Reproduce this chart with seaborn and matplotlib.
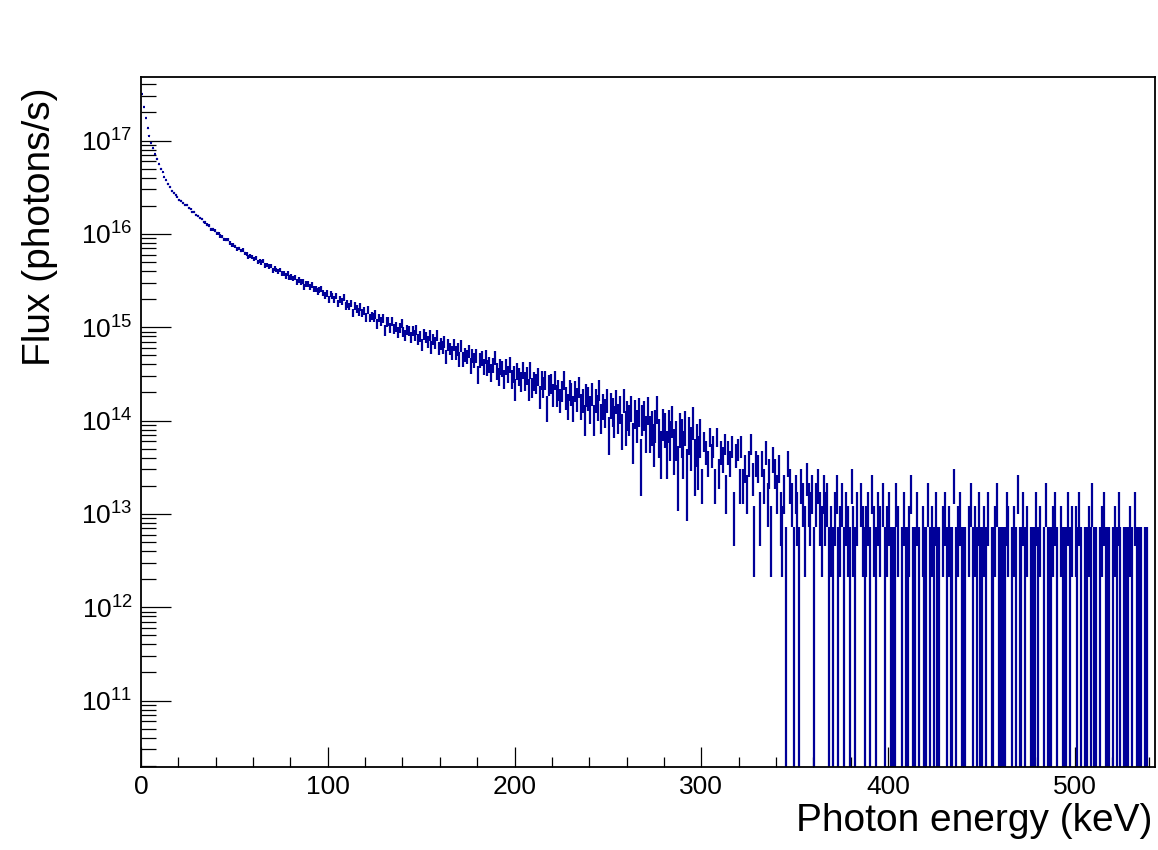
import numpy as np
import pandas as pd
import matplotlib
matplotlib.use("Agg")
import matplotlib.pyplot as plt
import seaborn as sns
from matplotlib.ticker import LogLocator, MultipleLocator, NullFormatter, LogFormatterSciNotation

sns.set_theme(style="white")
plt.rcParams['font.family'] = ['Liberation Sans', 'DejaVu Sans']
plt.rcParams['mathtext.default'] = 'regular'
plt.rcParams['text.color'] = 'black'
plt.rcParams['axes.labelcolor'] = 'black'
plt.rcParams['xtick.color'] = 'black'
plt.rcParams['ytick.color'] = 'black'

flux_per_count = 3.6e12
bin_width_kev = 1.0

# counts per 1 keV bin
counts_000_099 = [87990, 63420, 48480, 37460, 31470, 26390, 23115, 19870, 17620, 15500,
                  13840, 12690, 11180, 10390, 9520, 8780, 8030, 7680, 7200, 6900,
                  6370, 6305, 6000, 5705, 5615, 5280, 5115, 4795, 4795, 4435,
                  4325, 4125, 4030, 3715, 3685, 3490, 3410, 3100, 3110, 3010,
                  2825, 2835, 2645, 2585, 2440, 2415, 2410, 2225, 2120, 2120,
                  2045, 1920, 1945, 1845, 1865, 1715, 1700, 1580, 1630, 1565,
                  1490, 1520, 1390, 1435, 1370, 1420, 1280, 1290, 1240, 1260,
                  1135, 1195, 1145, 1100, 1140, 1060, 1060, 985, 1055, 955,
                  964, 933, 950, 854, 895, 851, 864, 759, 813, 805,
                  747, 787, 719, 720, 674, 694, 719, 646, 613, 642]
counts_100_199 = [554, 634, 603, 556, 603, 504, 557, 521, 580, 471,
                  495, 465, 500, 399, 469, 436, 408, 458, 398, 413,
                  353, 431, 351, 371, 354, 381, 303, 351, 321, 344,
                  258, 318, 321, 276, 324, 269, 279, 247, 275, 309,
                  249, 227, 263, 253, 216, 255, 228, 264, 209, 223,
                  181, 233, 218, 195, 227, 171, 206, 190, 228, 166,
                  185, 170, 194, 136, 181, 164, 149, 182, 149, 161,
                  127, 178, 128, 143, 136, 154, 108, 140, 124, 139,
                  88, 125, 131, 105, 136, 104, 111, 92, 110, 132,
                  96, 84, 107, 101, 79, 105, 89, 111, 79, 89]
counts_200_299 = [61, 95, 83, 74, 98, 75, 85, 61, 98, 64,
                  75, 70, 84, 51, 76, 65, 77, 39, 68, 71,
                  54, 77, 53, 60, 47, 59, 76, 50, 41, 60,
                  55, 39, 59, 48, 65, 41, 47, 30, 54, 49,
                  38, 55, 30, 47, 40, 60, 31, 41, 35, 47,
                  21, 42, 36, 29, 46, 31, 38, 23, 47, 25,
                  33, 30, 39, 18, 34, 26, 36, 11, 30, 33,
                  22, 37, 22, 25, 17, 26, 38, 20, 14, 27,
                  24, 14, 26, 19, 29, 15, 19, 9, 24, 20,
                  14, 25, 8, 21, 16, 28, 11, 17, 12, 20]
counts_300_399 = [6, 17, 13, 10, 19, 12, 15, 6, 19, 8,
                  13, 11, 16, 5, 13, 10, 15, 3, 12, 14,
                  6, 15, 6, 9, 5, 10, 16, 7, 2, 10,
                  9, 3, 10, 6, 13, 4, 8, 2, 11, 8,
                  5, 9, 3, 2, 5, 1, 10, 6, 4, 1,
                  5, 3, 1, 6, 4, 2, 7, 4, 3, 5,
                  1, 4, 6, 3, 2, 5, 3, 4, 1, 2,
                  1, 3, 5, 1, 2, 4, 1, 3, 2, 1,
                  6, 2, 1, 3, 0, 4, 2, 1, 2, 3,
                  1, 5, 2, 1, 3, 2, 0, 4, 1, 2]
counts_400_449 = [3, 1, 1, 1, 4, 2, 0, 1, 3, 1, 1, 2, 5, 1, 1, 3, 1, 0, 2, 1,
                  1, 4, 1, 2, 1, 3, 1, 1, 0, 2, 3, 1, 2, 1, 1, 6, 1, 2, 3, 1,
                  1, 1, 0, 2, 4, 1, 2, 1, 3, 1]
counts_450_499 = [1, 2, 1, 3, 0, 1, 1, 2, 4, 1, 1, 1, 1, 3, 2, 0, 1, 2, 1, 5,
                  1, 1, 3, 1, 2, 0, 1, 1, 1, 3, 1, 2, 0, 1, 4, 1, 1, 1, 2, 3,
                  1, 0, 2, 1, 1, 1, 3, 1, 2, 0]
counts_500_538 = [2, 1, 3, 1, 0, 1, 1, 2, 1, 4, 1, 1, 0, 1, 2, 3, 1, 1, 1, 0,
                  1, 2, 1, 3, 1, 0, 1, 1, 1, 2, 1, 0, 3, 1, 1, 1, 0, 1, 1]

# error bars in the picture are wider than sqrt(N) below ~300 keV (weighted fills)
err_scale_from_kev = [0, 300]
err_scale = [2.0, 1.0]

x_ticks = [0, 100, 200, 300, 400, 500]
x_lim = (0, 543)
y_lim = (1.94e10, 4.8e17)

counts = (counts_000_099 + counts_100_199 + counts_200_299 + counts_300_399
          + counts_400_449 + counts_450_499 + counts_500_538)
energy = (np.arange(len(counts)) + 0.5) * bin_width_kev

df = pd.DataFrame({"energy": energy, "counts": counts})
df = df[df["counts"] > 0].copy()
scale_idx = np.searchsorted(err_scale_from_kev, df["energy"].values, side="right") - 1
df["flux"] = df["counts"] * flux_per_count
df["err"] = np.sqrt(df["counts"]) * flux_per_count * np.array(err_scale)[scale_idx]
df["lo"] = (df["flux"] - df["err"]).clip(lower=y_lim[0] * 0.5)
df["hi"] = df["flux"] + df["err"]

navy = "#000099"

fig = plt.figure(figsize=(11.58, 8.5), dpi=100)
ax = fig.add_axes([0.1218, 0.0976, 0.8756, 0.8118])
ax.set_yscale("log")

# ROOT-style error display: vertical error bars, bin-wide horizontal bars, dot markers
ax.vlines(df["energy"], df["lo"], df["hi"], color=navy, lw=1.6)
ax.hlines(df["flux"], df["energy"] - bin_width_kev / 2, df["energy"] + bin_width_kev / 2,
          color=navy, lw=1.6)
sns.scatterplot(data=df, x="energy", y="flux", ax=ax, s=4, color=navy, marker="s",
                linewidth=0, legend=False)

ax.set_xlim(*x_lim)
ax.set_ylim(*y_lim)

ax.xaxis.set_major_locator(plt.FixedLocator(x_ticks))
ax.xaxis.set_minor_locator(MultipleLocator(20))
ax.yaxis.set_major_locator(LogLocator(base=10, numticks=20))
ax.yaxis.set_minor_locator(LogLocator(base=10, subs=np.arange(2, 10), numticks=20))
ax.yaxis.set_major_formatter(LogFormatterSciNotation())
ax.yaxis.set_minor_formatter(NullFormatter())

ax.tick_params(which="both", direction="in", bottom=True, left=True, top=False, right=False,
               color="black", width=0.9, labelsize=19, pad=6)
ax.tick_params(axis="y", which="major", length=21.6)
ax.tick_params(axis="y", which="minor", length=10.8)
ax.tick_params(axis="x", which="major", length=14.4)
ax.tick_params(axis="x", which="minor", length=7.0)

for s in ax.spines.values():
    s.set_color("black")
    s.set_linewidth(1.3)

ax.set_xlabel("Photon energy (keV)", fontsize=28, loc="right")
ax.set_ylabel("Flux (photons/s)", fontsize=28, loc="top")
ax.xaxis.set_label_coords(0.997, -0.052)
ax.yaxis.set_label_coords(-0.082, 0.985)

fig.savefig("out.png", dpi=100, facecolor="white")
